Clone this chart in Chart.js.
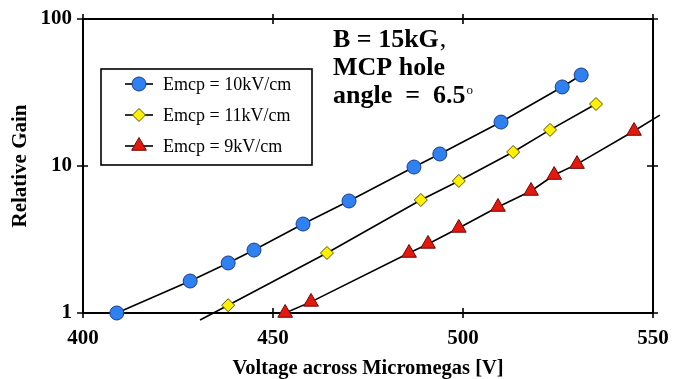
<!DOCTYPE html>
<html>
<head>
<meta charset="utf-8">
<script src="https://cdn.jsdelivr.net/npm/chart.js@4.4.1/dist/chart.umd.min.js"></script>
<style>
  html, body { margin: 0; padding: 0; background: #fff; }
  #wrap { width: 673px; height: 379px; }
</style>
</head>
<body>
<div id="wrap"><canvas id="c"></canvas></div>
<script>
const xTicks = [400, 450, 500, 550];
const yTicks = [1, 10, 100];
const seriesNames = ['Emcp = 10kV/cm', 'Emcp = 11kV/cm', 'Emcp = 9kV/cm'];

// Emcp = 10kV/cm
const v10 = [408.9, 428.2, 438.2, 445.0, 457.9, 470.0, 487.1, 493.9, 510.0, 526.1, 531.1];
const g10 = [1.0, 1.65, 2.19, 2.68, 4.03, 5.78, 9.84, 12.07, 19.9, 34.5, 41.6];
// Emcp = 11kV/cm
const v11 = [438.2, 464.2, 488.9, 498.9, 513.2, 522.9, 535.0];
const g11 = [1.13, 2.56, 5.87, 7.91, 12.45, 17.6, 26.4];
// Emcp = 9kV/cm
const v9 = [453.2, 460.0, 485.8, 490.8, 498.9, 509.2, 517.9, 524.0, 530.0, 545.0];
const g9 = [1.0, 1.19, 2.56, 2.95, 3.79, 5.26, 6.76, 8.68, 10.3, 17.3];

// where the drawn lines run past the measured points
const ext11Start = [430.8, 0.896];
const ext9End = [551.8, 22.2];

const toPts = (xs, ys) => xs.map((v, i) => ({ x: v, y: ys[i] }));

const serif = '"Liberation Serif", "Times New Roman", serif';

const markerStyles = [
  { pointStyle: 'circle', radius: 7, bg: '#2f80f0', border: '#1a3d8a' },
  { pointStyle: 'rectRot', radius: 6.5, bg: '#fff000', border: '#5a5000' },
  { pointStyle: 'triangle', radius: 8.5, bg: '#e3190f', border: '#6a0a05' }
];

const markerSet = (i, pts) => ({
  label: seriesNames[i],
  data: pts,
  showLine: false,
  pointStyle: markerStyles[i].pointStyle,
  pointRadius: markerStyles[i].radius,
  pointBackgroundColor: markerStyles[i].bg,
  pointBorderColor: markerStyles[i].border,
  pointBorderWidth: 1,
  clip: false,
  order: 0
});

const lineSet = pts => ({
  data: pts,
  showLine: true,
  borderColor: '#000',
  borderWidth: 1.6,
  pointRadius: 0,
  fill: false,
  clip: false,
  order: 1
});

const pts10 = toPts(v10, g10);
const pts11 = toPts(v11, g11);
const pts9 = toPts(v9, g9);

const framePlugin = {
  id: 'frame',
  beforeDatasetsDraw(chart) {
    const { ctx, chartArea: a, scales: { x, y } } = chart;
    ctx.save();
    ctx.strokeStyle = '#000';
    ctx.lineWidth = 2;
    ctx.strokeRect(a.left, a.top, a.right - a.left, a.bottom - a.top);
    ctx.lineWidth = 1.6;
    ctx.beginPath();
    xTicks.forEach(v => {
      const px = x.getPixelForValue(v);
      [a.top, a.bottom].forEach(py => { ctx.moveTo(px, py - 5); ctx.lineTo(px, py + 5); });
    });
    yTicks.forEach(v => {
      const py = y.getPixelForValue(v);
      [a.left, a.right].forEach(px => { ctx.moveTo(px - 6, py); ctx.lineTo(px + 5, py); });
    });
    ctx.stroke();
    ctx.restore();
  },
  afterDraw(chart) {
    const { ctx } = chart;
    ctx.save();
    // legend box
    ctx.strokeStyle = '#000';
    ctx.lineWidth = 1.6;
    ctx.strokeRect(101, 69, 211, 96);
    const rows = [84, 115, 146];
    ctx.font = '18px ' + serif;
    ctx.textBaseline = 'middle';
    ctx.textAlign = 'left';
    rows.forEach((ry, i) => {
      ctx.beginPath();
      ctx.strokeStyle = '#000';
      ctx.lineWidth = 1.6;
      ctx.moveTo(125, ry);
      ctx.lineTo(153, ry);
      ctx.stroke();
      const m = markerStyles[i];
      ctx.fillStyle = m.bg;
      ctx.strokeStyle = m.border;
      ctx.lineWidth = 1;
      Chart.helpers.drawPoint(ctx, { pointStyle: m.pointStyle, radius: m.radius, rotation: 0, borderWidth: 1 }, 139, ry);
      ctx.fillStyle = '#000';
      ctx.fillText(seriesNames[i], 163, ry + 1);
    });
    // annotation
    ctx.fillStyle = '#000';
    ctx.textBaseline = 'alphabetic';
    const bold = 'bold 26px ' + serif;
    ctx.font = bold;
    ctx.fillText('B = 15kG', 333, 47);
    const w1 = ctx.measureText('B = 15kG').width;
    ctx.font = '26px ' + serif;
    ctx.fillText(',', 333 + w1 + 1, 47);
    ctx.font = bold;
    ctx.fillText('MCP hole', 333, 75);
    ctx.fillText('angle  =  6.5', 333, 103);
    const w3 = ctx.measureText('angle  =  6.5').width;
    ctx.font = '13px ' + serif;
    ctx.fillText('o', 333 + w3 + 1, 94);
    ctx.restore();
  }
};

new Chart(document.getElementById('c'), {
  type: 'scatter',
  data: {
    datasets: [
      markerSet(0, pts10),
      markerSet(1, pts11),
      markerSet(2, pts9),
      lineSet(pts10),
      lineSet([{ x: ext11Start[0], y: ext11Start[1] }, ...pts11]),
      lineSet([...pts9, { x: ext9End[0], y: ext9End[1] }])
    ]
  },
  options: {
    responsive: true,
    maintainAspectRatio: false,
    animation: false,
    layout: { padding: { top: 19, right: 20, left: 0, bottom: 0 } },
    plugins: {
      legend: { display: false },
      tooltip: { enabled: false }
    },
    scales: {
      x: {
        type: 'linear',
        min: 400,
        max: 550,
        afterBuildTicks: s => { s.ticks = xTicks.map(v => ({ value: v })); },
        afterFit: s => { s.height = 66; s.paddingLeft = 0; s.paddingRight = 0; },
        grid: { display: false },
        border: { display: false },
        ticks: {
          padding: 5,
          color: '#000',
          font: { family: serif, size: 21, weight: 'bold' }
        },
        title: {
          display: true,
          text: 'Voltage across Micromegas [V]',
          color: '#000',
          padding: { top: 0, bottom: -2 },
          font: { family: serif, size: 20.5, weight: 'bold' }
        }
      },
      y: {
        type: 'logarithmic',
        min: 1,
        max: 100,
        afterBuildTicks: s => { s.ticks = yTicks.map(v => ({ value: v })); },
        afterFit: s => { s.width = 83; s.paddingTop = 0; s.paddingBottom = 0; },
        grid: { display: false },
        border: { display: false },
        ticks: {
          padding: 3,
          color: '#000',
          callback: v => String(v),
          font: { family: serif, size: 21, weight: 'bold' }
        },
        title: {
          display: true,
          text: 'Relative Gain',
          color: '#000',
          padding: { top: 8, bottom: 0 },
          font: { family: serif, size: 21, weight: 'bold' }
        }
      }
    }
  },
  plugins: [framePlugin]
});
</script>
</body>
</html>
